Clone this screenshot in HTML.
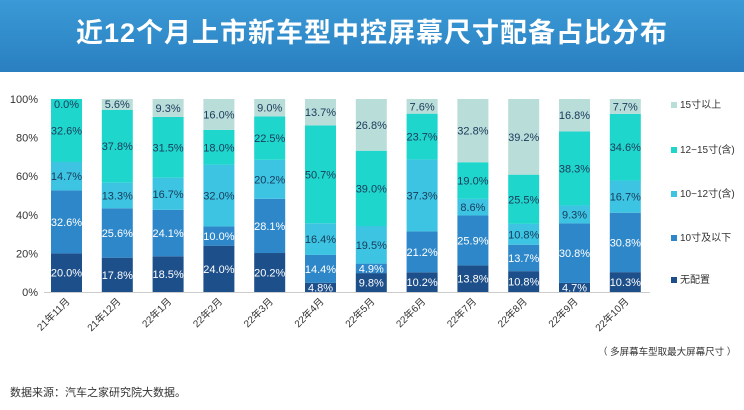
<!DOCTYPE html>
<html><head><meta charset="utf-8"><style>
body{margin:0;width:744px;height:410px;background:#fff;overflow:hidden;font-family:"Liberation Sans","Noto Sans CJK SC",sans-serif}
#hdr{position:absolute;left:0;top:0;width:744px;height:72px;background:linear-gradient(#3a9ad6,#2a7fc0);}
#hdr div{color:#fff;font-size:27px;font-weight:bold;text-align:center;line-height:66px;letter-spacing:1px}
svg{position:absolute;left:0;top:0}
</style></head><body>
<div id="hdr"><div>近12个月上市新车型中控屏幕尺寸配备占比分布</div></div>
<svg id="c" width="744" height="410"></svg>
<script>
const categories=["21年11月","21年12月","22年1月","22年2月","22年3月","22年4月","22年5月","22年6月","22年7月","22年8月","22年9月","22年10月"];
const seriesNames=["无配置","10寸及以下","10-12寸(含)","12-15寸(含)","15寸以上"];
const s0=[20.0,17.8,18.5,24.0,20.2,4.8,9.8,10.2,13.8,10.8,4.7,10.3];
const s1=[32.6,25.6,24.1,10.0,28.1,14.4,4.9,21.2,25.9,13.7,30.8,30.8];
const s2=[14.7,13.3,16.7,32.0,20.2,16.4,19.5,37.3,8.6,10.8,9.3,16.7];
const s3=[32.6,37.8,31.5,18.0,22.5,50.7,39.0,23.7,19.0,25.5,38.3,34.6];
const s4=[0.0,5.6,9.3,16.0,9.0,13.7,26.8,7.6,32.8,39.2,16.8,7.7];
const yTicks=[0,20,40,60,80,100];
const series=[s0,s1,s2,s3,s4];
const colors=["#1d4f8a","#2d87c9","#3cc4e2","#1fd6cc","#b9ddd9"];
const textColors=["#fff","#fff","#1a3a5a","#1a3a5a","#1a3a5a"];
const svg=document.getElementById('c');const NS="http://www.w3.org/2000/svg";
const y0=292,y1=99,x0=51,step=50.8,bw=31;
const Y=v=>y0-(y0-y1)*v/100;const X=i=>x0+i*step;
function mk(t,a,txt){const e=document.createElementNS(NS,t);for(const k in a)e.setAttribute(k,a[k]);if(txt!=null)e.textContent=txt;svg.appendChild(e);return e;}
yTicks.forEach(t=>{const e=mk('text',{x:38,y:Y(t)+4,'text-anchor':'end','font-size':11,fill:'#333'},t+'%');

});
categories.forEach((c,i)=>{
 const tot=series.reduce((a,s)=>a+s[i],0);let cum=0;
 series.forEach((s,k)=>{const v=s[i]/tot*100;const ya=Y(cum+v),yb=Y(cum);
  const r=mk('rect',{x:X(i),y:ya,width:bw,height:yb-ya,fill:colors[k]});
  
  
  let ty=(ya+yb)/2+4; if(k==4&&yb-ya<12)ty=ya+9;
  const t=mk('text',{x:X(i)+bw/2,y:ty,'text-anchor':'middle','font-size':11,fill:textColors[k]},s[i].toFixed(1)+'%');
  
  
  cum+=v;});
 const cx=X(i)+bw/2+4;
 const t=mk('text',{x:cx,y:302,'text-anchor':'end','font-size':10,fill:'#333',transform:`rotate(-45 ${cx} 302)`},c);
 
 
});
const ax=mk('line',{x1:44,x2:650,y1:y0+0.5,y2:y0+0.5,stroke:'#ccc'});


const ly=[282,240,196,152,107];
seriesNames.forEach((n,k)=>{
 const r=mk('rect',{x:671,y:ly[k]-5,width:6,height:6,fill:colors[k]});
 
 
 const t=mk('text',{x:680,y:ly[k]+1,'font-size':10,fill:'#333'},n.replace('-','−'));
 
 
});
const n1=mk('text',{x:598,y:355,'font-size':9.5,fill:'#333'},'（ 多屏幕车型取最大屏幕尺寸 ）');


const n2=mk('text',{x:10,y:396,'font-size':11,fill:'#333'},'数据来源：汽车之家研究院大数据。');


</script>
</body></html>
